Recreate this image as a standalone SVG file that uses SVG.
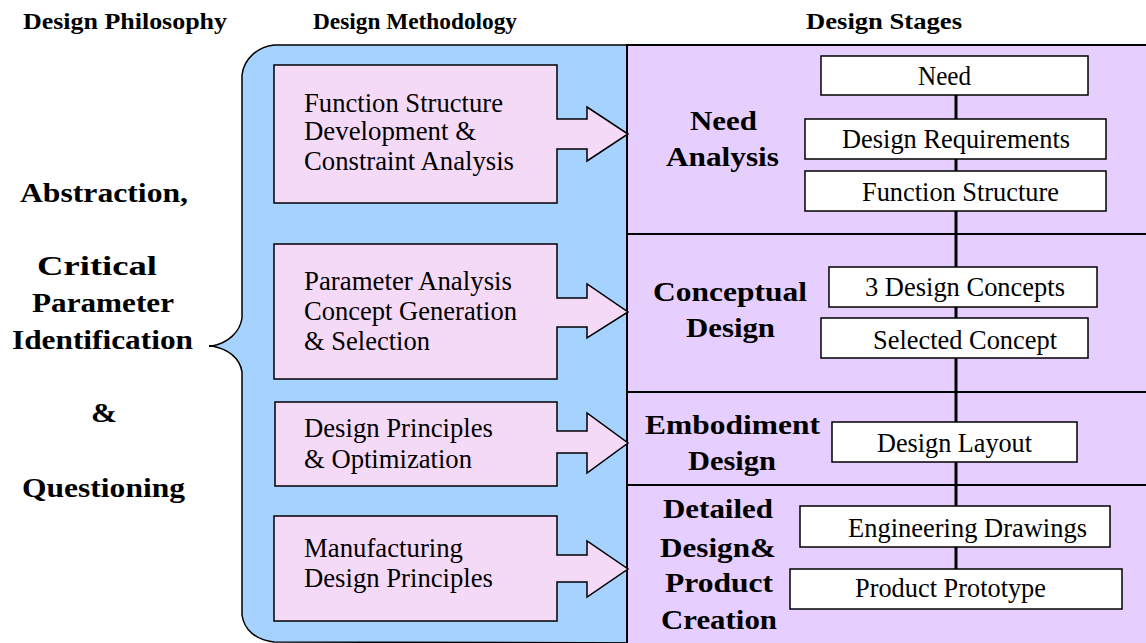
<svg xmlns="http://www.w3.org/2000/svg" width="1146" height="643" viewBox="0 0 1146 643">
<style>
text{font-family:"Liberation Serif","Times New Roman",serif;fill:#000}
.h{font-size:24px;font-weight:bold}
.b{font-size:27px;font-weight:bold}
.r{font-size:28px}
.l{font-size:27px}
.pink{fill:#F5DAF8;stroke:#000;stroke-width:1.5}
.wb{fill:#fff;stroke:#000;stroke-width:1.5}
.div{stroke:#000;stroke-width:2;fill:none}
</style>
<rect width="1146" height="643" fill="#fff"/>
<g id="headers">
<text class="h" x="23" y="29" textLength="204" lengthAdjust="spacingAndGlyphs">Design Philosophy</text>
<text class="h" x="313" y="29" textLength="204" lengthAdjust="spacingAndGlyphs">Design Methodology</text>
<text class="h" x="806" y="29" textLength="156" lengthAdjust="spacingAndGlyphs">Design Stages</text>
</g>
<g id="philosophy">
<text class="b" x="20" y="202" textLength="168" lengthAdjust="spacingAndGlyphs">Abstraction,</text>
<text class="b" x="37" y="275" textLength="120" lengthAdjust="spacingAndGlyphs">Critical</text>
<text class="b" x="32" y="312" textLength="142" lengthAdjust="spacingAndGlyphs">Parameter</text>
<text class="b" x="12" y="349" textLength="181" lengthAdjust="spacingAndGlyphs">Identification</text>
<text class="b" x="91" y="422" textLength="26" lengthAdjust="spacingAndGlyphs">&amp;</text>
<text class="b" x="22" y="497" textLength="163" lengthAdjust="spacingAndGlyphs">Questioning</text>
</g>
<g id="methodology-brace">
<path d="M660,45 L274,45 C258,47 244,58 242,75 L242,318 C240,332 228,343 212,346 C228,349 240,358 242,372 L242,615 C244,630 256,640 274,642 L660,643 Z" fill="#A6D2FF" stroke="#000" stroke-width="1.5"/>
<line x1="209" y1="346" x2="214" y2="346" stroke="#000" stroke-width="2"/>
</g>
<g id="stages-panel">
<rect x="627" y="45" width="530" height="610" fill="#E6CEFF" stroke="#000" stroke-width="2"/>
<line class="div" x1="627" y1="234" x2="1146" y2="234"/>
<line class="div" x1="627" y1="392" x2="1146" y2="392"/>
<line class="div" x1="627" y1="485" x2="1146" y2="485"/>
</g>
<g id="connectors">
<line x1="956" y1="95" x2="956" y2="569" stroke="#000" stroke-width="3"/>
</g>
<g id="m1">
<polygon class="pink" points="274,65 557,65 557,119 587,119 587,107 628,134 587,161 587,149 557,149 557,203 274,203"/>
<text class="l" x="304" y="112" textLength="199" lengthAdjust="spacingAndGlyphs">Function Structure</text>
<text class="l" x="304" y="140" textLength="172" lengthAdjust="spacingAndGlyphs">Development &amp;</text>
<text class="l" x="304" y="170" textLength="210" lengthAdjust="spacingAndGlyphs">Constraint Analysis</text>
</g>
<g id="m2">
<polygon class="pink" points="274,244 557,244 557,298 587,298 587,284 628,312 587,338 587,327 557,327 557,379 274,379"/>
<text class="l" x="304" y="290" textLength="208" lengthAdjust="spacingAndGlyphs">Parameter Analysis</text>
<text class="l" x="304" y="320" textLength="213" lengthAdjust="spacingAndGlyphs">Concept Generation</text>
<text class="l" x="304" y="350" textLength="126" lengthAdjust="spacingAndGlyphs">&amp; Selection</text>
</g>
<g id="m3">
<polygon class="pink" points="275,402 557,402 557,431 587,431 587,413 628,443 587,473 587,453 557,453 557,486 275,486"/>
<text class="l" x="304" y="437" textLength="189" lengthAdjust="spacingAndGlyphs">Design Principles</text>
<text class="l" x="304" y="468" textLength="168" lengthAdjust="spacingAndGlyphs">&amp; Optimization</text>
</g>
<g id="m4">
<polygon class="pink" points="274,516 557,516 557,555 587,555 587,541 628,569 587,597 587,582 557,582 557,621 274,621"/>
<text class="l" x="304" y="557" textLength="159" lengthAdjust="spacingAndGlyphs">Manufacturing</text>
<text class="l" x="304" y="587" textLength="189" lengthAdjust="spacingAndGlyphs">Design Principles</text>
</g>
<g id="stage-need">
<text class="b" x="690" y="130" textLength="67" lengthAdjust="spacingAndGlyphs">Need</text>
<text class="b" x="666" y="166" textLength="113" lengthAdjust="spacingAndGlyphs">Analysis</text>
</g>
<g id="stage-conceptual">
<text class="b" x="653" y="301" textLength="154" lengthAdjust="spacingAndGlyphs">Conceptual</text>
<text class="b" x="686" y="337" textLength="89" lengthAdjust="spacingAndGlyphs">Design</text>
</g>
<g id="stage-embodiment">
<text class="b" x="645" y="434" textLength="175" lengthAdjust="spacingAndGlyphs">Embodiment</text>
<text class="b" x="688" y="470" textLength="88" lengthAdjust="spacingAndGlyphs">Design</text>
</g>
<g id="stage-detailed">
<text class="b" x="663" y="518" textLength="110" lengthAdjust="spacingAndGlyphs">Detailed</text>
<text class="b" x="660" y="557" textLength="116" lengthAdjust="spacingAndGlyphs">Design&amp;</text>
<text class="b" x="665" y="592" textLength="108" lengthAdjust="spacingAndGlyphs">Product</text>
<text class="b" x="661" y="629" textLength="116" lengthAdjust="spacingAndGlyphs">Creation</text>
</g>
<g id="need">
<rect class="wb" x="821" y="56" width="267" height="39"/>
<text class="r" x="918" y="85" textLength="53" lengthAdjust="spacingAndGlyphs">Need</text>
</g>
<g id="design-requirements">
<rect class="wb" x="805" y="119" width="301" height="40"/>
<text class="r" x="842" y="148" textLength="228" lengthAdjust="spacingAndGlyphs">Design Requirements</text>
</g>
<g id="function-structure">
<rect class="wb" x="805" y="171" width="301" height="40"/>
<text class="r" x="862" y="201" textLength="197" lengthAdjust="spacingAndGlyphs">Function Structure</text>
</g>
<g id="design-concepts">
<rect class="wb" x="829" y="267" width="268" height="40"/>
<text class="r" x="865" y="296" textLength="200" lengthAdjust="spacingAndGlyphs">3 Design Concepts</text>
</g>
<g id="selected-concept">
<rect class="wb" x="821" y="318" width="267" height="40"/>
<text class="r" x="873" y="349" textLength="184" lengthAdjust="spacingAndGlyphs">Selected Concept</text>
</g>
<g id="design-layout">
<rect class="wb" x="832" y="422" width="245" height="40"/>
<text class="r" x="877" y="452" textLength="155" lengthAdjust="spacingAndGlyphs">Design Layout</text>
</g>
<g id="engineering-drawings">
<rect class="wb" x="800" y="506" width="310" height="41"/>
<text class="r" x="848" y="537" textLength="239" lengthAdjust="spacingAndGlyphs">Engineering Drawings</text>
</g>
<g id="product-prototype">
<rect class="wb" x="790" y="569" width="332" height="40"/>
<text class="r" x="855" y="597" textLength="191" lengthAdjust="spacingAndGlyphs">Product Prototype</text>
</g>
</svg>
